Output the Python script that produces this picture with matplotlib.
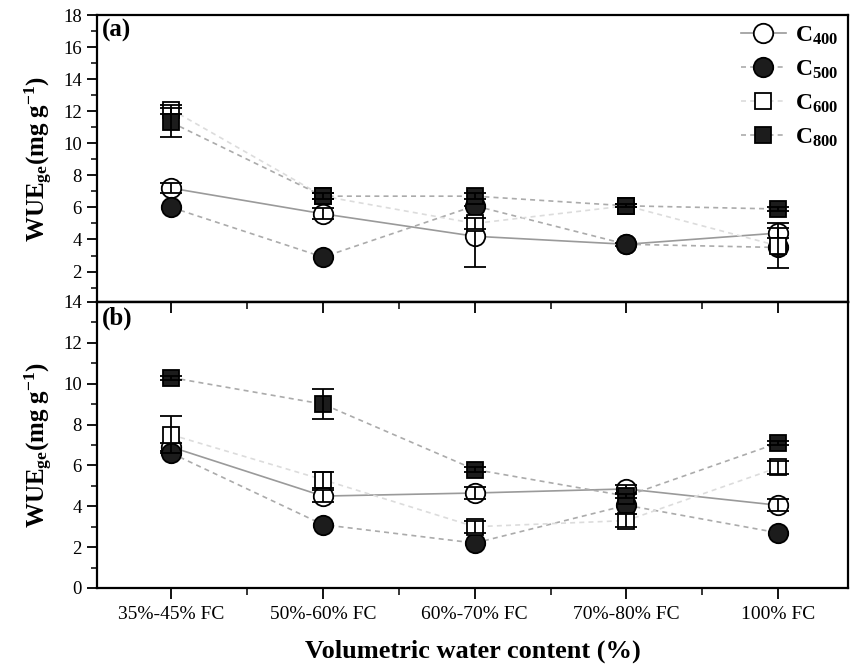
import matplotlib
matplotlib.use("Agg")
import matplotlib.pyplot as plt
from matplotlib.lines import Line2D
from matplotlib.ticker import MultipleLocator, FixedLocator

plt.rcParams['font.family'] = 'serif'
plt.rcParams['font.serif'] = ['Liberation Serif', 'DejaVu Serif']
plt.rcParams['mathtext.fontset'] = 'custom'
plt.rcParams['mathtext.rm'] = 'Liberation Serif'
plt.rcParams['mathtext.bf'] = 'Liberation Serif:bold'
plt.rcParams['mathtext.it'] = 'Liberation Serif:italic'

# Water treatments (x axis)
categories = ['35%-45% FC', '50%-60% FC', '60%-70% FC', '70%-80% FC', '100% FC']
series_labels = [r'$\mathbf{C_{400}}$', r'$\mathbf{C_{500}}$',
                 r'$\mathbf{C_{600}}$', r'$\mathbf{C_{800}}$']

# Panel (a): WUEge means and standard errors
a_c400 = [7.2, 5.6, 4.2, 3.7, 4.4]
a_c500 = [6.0, 2.9, 6.1, 3.7, 3.5]
a_c600 = [12.1, 6.7, 5.0, 6.1, 3.6]
a_c800 = [11.3, 6.7, 6.7, 6.1, 5.9]
a_c400_err = [0.3, 0.35, 1.9, 0.1, 0.3]
a_c500_err = [0.0, 0.0, 0.0, 0.0, 0.0]
a_c600_err = [0.3, 0.2, 0.35, 0.1, 1.4]
a_c800_err = [0.9, 0.2, 0.2, 0.1, 0.1]

# Panel (b): WUEge means and standard errors
b_c400 = [6.9, 4.5, 4.65, 4.85, 4.05]
b_c500 = [6.6, 3.1, 2.2, 4.05, 2.7]
b_c600 = [7.5, 5.3, 3.0, 3.3, 5.9]
b_c800 = [10.3, 9.0, 5.8, 4.5, 7.1]
b_c400_err = [0.2, 0.3, 0.3, 0.2, 0.3]
b_c500_err = [0.0, 0.0, 0.0, 0.0, 0.0]
b_c600_err = [0.9, 0.4, 0.3, 0.3, 0.3]
b_c800_err = [0.1, 0.75, 0.1, 0.1, 0.1]

x = list(range(1, len(categories) + 1))

styles = [
    dict(marker='o', ms=14, mfc='white', ls='-', lc='#9a9a9a'),
    dict(marker='o', ms=14, mfc='#1c1c1c', ls=(0, (3, 2.5)), lc='#ababab'),
    dict(marker='s', ms=12, mfc='white', ls=(0, (3, 2.5)), lc='#dcdcdc'),
    dict(marker='s', ms=12, mfc='#1c1c1c', ls=(0, (3, 2.5)), lc='#ababab'),
]

fig = plt.figure(figsize=(8.56, 6.72), dpi=100)
W, H = 856.0, 672.0
ax_a = fig.add_axes([97 / W, 1 - 302 / H, 751 / W, 287 / H])
ax_b = fig.add_axes([97 / W, 1 - 588 / H, 751 / W, 286 / H])


def draw_panel(ax, values, errors):
    for i, (y, e, st) in enumerate(zip(values, errors, styles)):
        z = 3 + i
        ax.plot(x, y, color=st['lc'], ls=st['ls'], lw=1.2, zorder=1)
        ax.plot(x, y, ls='none', marker=st['marker'], ms=st['ms'],
                mfc=st['mfc'], mec='black', mew=1.3, zorder=z)
        if any(v > 0 for v in e):
            ax.errorbar(x, y, yerr=e, fmt='none', ecolor='black',
                        elinewidth=1.3, capsize=8, capthick=1.3,
                        zorder=z + 0.5)


draw_panel(ax_a, [a_c400, a_c500, a_c600, a_c800],
           [a_c400_err, a_c500_err, a_c600_err, a_c800_err])
draw_panel(ax_b, [b_c400, b_c500, b_c600, b_c800],
           [b_c400_err, b_c500_err, b_c600_err, b_c800_err])

for ax in (ax_a, ax_b):
    ax.set_xlim(0.51, 5.46)
    for sp in ax.spines.values():
        sp.set_linewidth(1.6)
    ax.yaxis.set_minor_locator(MultipleLocator(1))
    ax.tick_params(axis='y', which='major', direction='out', length=7,
                   width=1.3, labelsize=13.5, pad=4)
    ax.tick_params(axis='y', which='minor', direction='out', length=4,
                   width=1.1)
    ax.tick_params(axis='y', right=False)

# panel (a)
ax_a.set_ylim(0.1, 18)
ax_a.set_yticks(range(2, 19, 2))
ax_a.set_xticks(x)
ax_a.tick_params(axis='x', which='both', bottom=False, top=False,
                 labelbottom=False)
ax_a.text(0.006, 0.985, '(a)', transform=ax_a.transAxes, ha='left',
          va='top', fontsize=18, fontweight='bold')
ax_a.set_ylabel(r'$\mathbf{WUE_{ge}(mg\ g^{-1})}$', fontsize=18, labelpad=6)

handles = [Line2D([], [], color=st['lc'], ls=st['ls'], lw=1.2,
                  marker=st['marker'], ms=st['ms'], mfc=st['mfc'],
                  mec='black', mew=1.3) for st in styles]
ax_a.legend(handles, series_labels, loc='upper right', frameon=False,
            fontsize=17, handlelength=1.9, handletextpad=0.4,
            labelspacing=0.5, borderaxespad=0.0,
            bbox_to_anchor=(1.0, 1.0))

# panel (b)
ax_b.set_ylim(0, 14)
ax_b.set_yticks(range(0, 15, 2))
ax_b.set_xticks(x)
ax_b.set_xticklabels(categories)
ax_b.xaxis.set_minor_locator(FixedLocator([1.5, 2.5, 3.5, 4.5]))
ax_b.tick_params(axis='x', which='major', direction='out', length=8,
                 width=1.3, labelsize=14, pad=5, top=False)
ax_b.tick_params(axis='x', which='minor', direction='out', length=5,
                 width=1.1, top=False)
top = ax_b.secondary_xaxis('top')
top.set_xticks(x)
top.xaxis.set_minor_locator(FixedLocator([1.5, 2.5, 3.5, 4.5]))
top.tick_params(axis='x', which='major', direction='in', length=8,
                width=1.3, labeltop=False)
top.tick_params(axis='x', which='minor', direction='in', length=5,
                width=1.1)
top.spines['top'].set_linewidth(1.6)
ax_b.text(0.006, 0.985, '(b)', transform=ax_b.transAxes, ha='left',
          va='top', fontsize=18, fontweight='bold')
ax_b.set_ylabel(r'$\mathbf{WUE_{ge}(mg\ g^{-1})}$', fontsize=18, labelpad=6)
ax_b.set_xlabel('Volumetric water content (%)', fontsize=19,
                fontweight='bold', labelpad=12)

fig.savefig('out.png', dpi=100)
